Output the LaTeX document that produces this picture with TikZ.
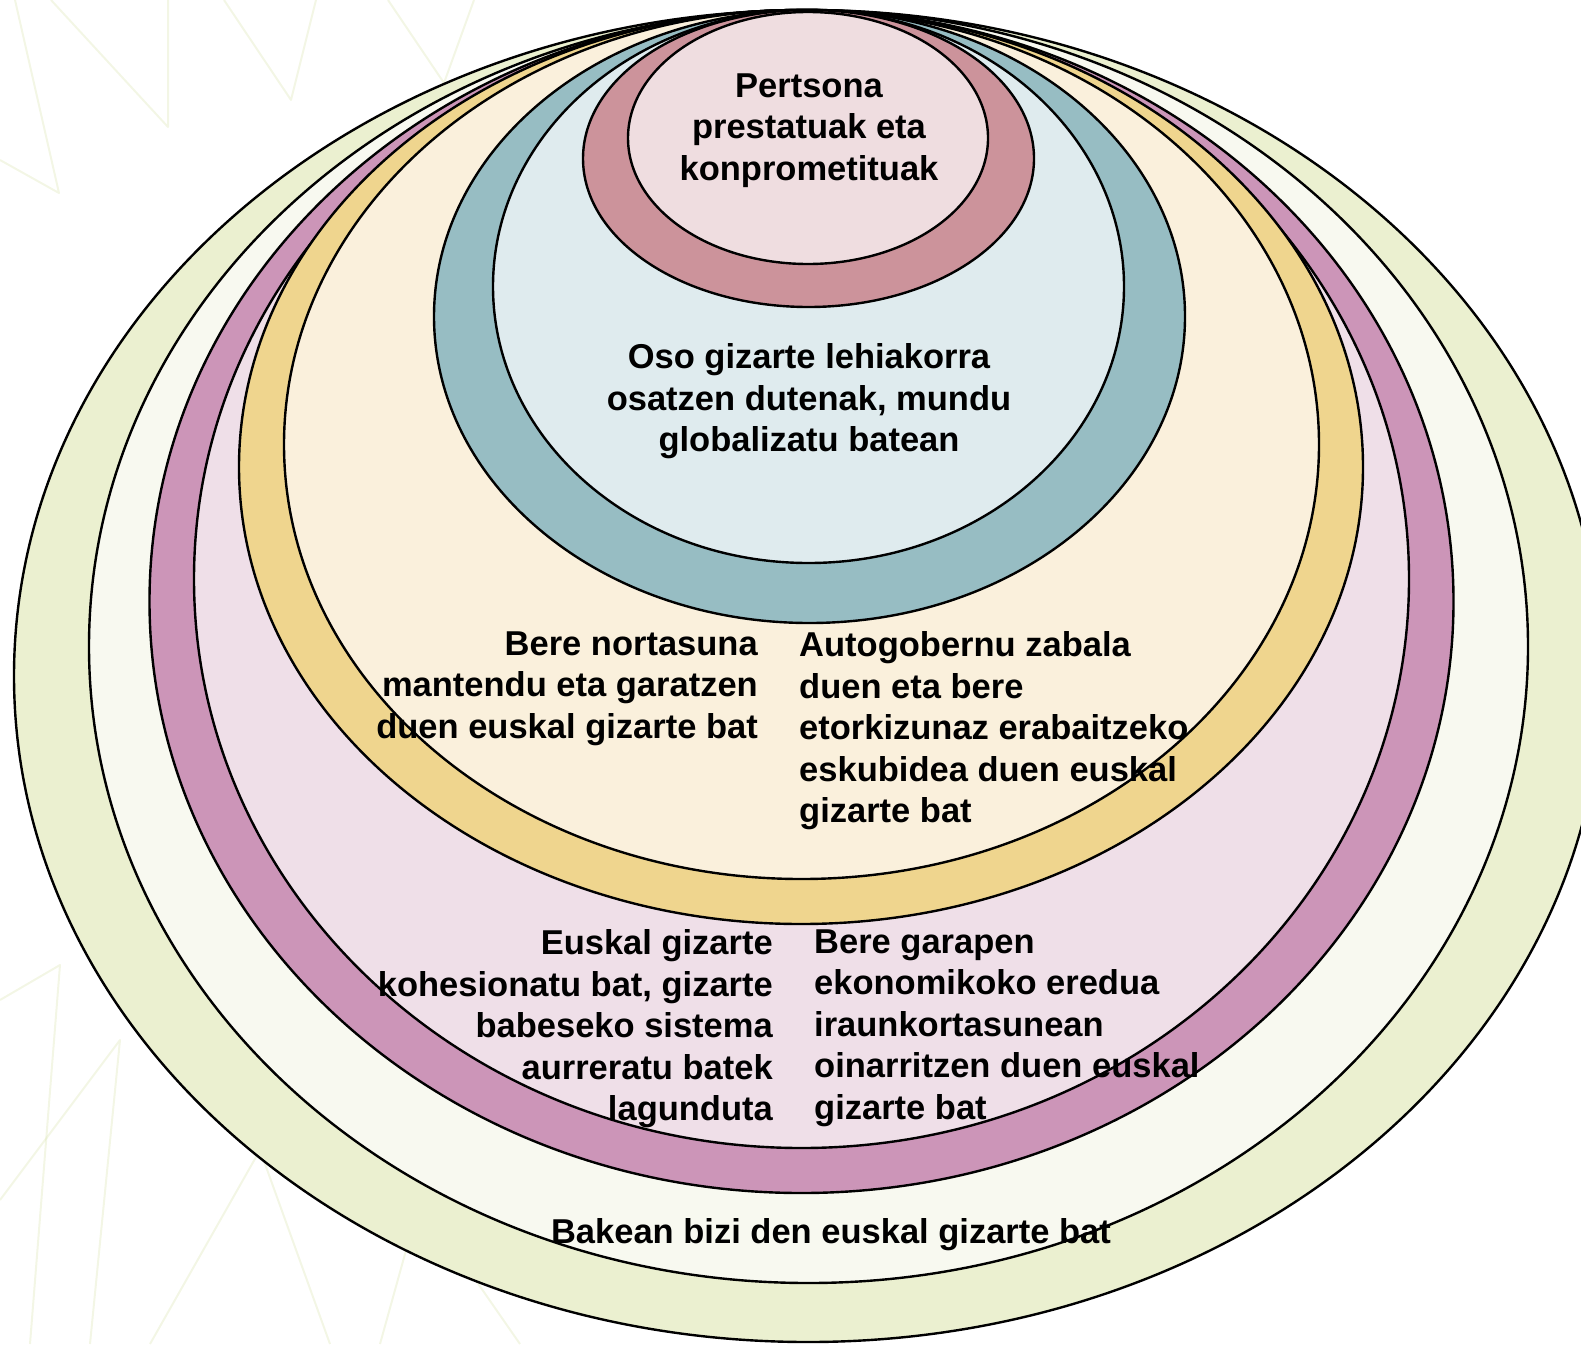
\documentclass[tikz,border=0pt]{standalone}
\usepackage{fontspec}
\setmainfont{Liberation Sans}
\usepackage{tikz}
\usetikzlibrary{positioning}

\definecolor{greenring}{RGB}{235,240,208}
\definecolor{whitering}{RGB}{248,249,240}
\definecolor{purplering}{RGB}{204,149,184}
\definecolor{pinkfill}{RGB}{239,223,232}
\definecolor{yellowring}{RGB}{239,213,142}
\definecolor{yellowfill}{RGB}{250,240,220}
\definecolor{tealring}{RGB}{151,189,195}
\definecolor{tealfill}{RGB}{223,235,238}
\definecolor{rosering}{RGB}{204,147,155}
\definecolor{rosefill}{RGB}{239,221,224}
\definecolor{leafgreen}{RGB}{214,226,170}

\tikzstyle{ring} = [draw=black, line width=2.4pt]
\tikzstyle{leaf} = [draw=leafgreen, line width=2pt, opacity=0.3, line join=round]
\tikzstyle{lbl} = [draw=none, inner sep=0, font=\fontsize{34.5}{41.5}\selectfont\bfseries]

\begin{document}
\begin{tikzpicture}[x=1pt, y=-1pt]
\useasboundingbox (0,0) rectangle (1581,1344);
\clip (0,0) rectangle (1581,1344);
%\fill[white] (0,0) rectangle (1581,1344);
\draw [leaf] (15,0) -- (59,193) -- (0,160);
\draw [leaf] (51,0) -- (168,127) -- (168,0);
\draw [leaf] (224,0) -- (291,100) -- (316,0);
\draw [leaf] (388,0) -- (444,83) -- (474,0);
\draw [leaf] (0,1000) -- (60,965) -- (30,1344);
\draw [leaf] (0,1200) -- (120,1040) -- (90,1344);
\draw [leaf] (150,1344) -- (260,1150) -- (330,1344);
\draw [leaf] (380,1344) -- (420,1200) -- (520,1344);

\draw [ring, fill=greenring] (808,676) ellipse [x radius=794, y radius=666];
\draw [ring, fill=whitering] (808.5,646.5) ellipse [x radius=719.5, y radius=636.5];
\draw [ring, fill=purplering] (801.5,601.5) ellipse [x radius=652, y radius=591.5];
\draw [ring, fill=pinkfill] (801.5,579) ellipse [x radius=607.5, y radius=569];
\draw [ring, fill=yellowring] (801,467) ellipse [x radius=562, y radius=457];
\draw [ring, fill=yellowfill] (801.5,444.5) ellipse [x radius=517.5, y radius=434.5];
\draw [ring, fill=tealring] (809.5,316.5) ellipse [x radius=375.5, y radius=306.5];
\draw [ring, fill=tealfill] (808.5,286.5) ellipse [x radius=315.5, y radius=276.5];
\draw [ring, fill=rosering] (808.5,158.5) ellipse [x radius=225.5, y radius=148.5];
\draw [ring, fill=rosefill] (808,138) ellipse [x radius=180, y radius=126];

\node [lbl, anchor=north, align=center] (pertsona) at (809,73.5) {Pertsona\\prestatuak eta\\konprometituak};
\node [lbl, anchor=north, align=center] (oso) at (809,343.5) {Oso gizarte lehiakorra\\osatzen dutenak, mundu\\globalizatu batean};
\node [lbl, anchor=north east, align=right] (nortasuna) at (758,631.5) {Bere nortasuna\\mantendu eta garatzen\\duen euskal gizarte bat};
\node [lbl, anchor=north west, align=left] (autogob) at (799,631.5) {Autogobernu zabala\\duen eta bere\\etorkizunaz erabaitzeko\\eskubidea duen euskal\\gizarte bat};
\node [lbl, anchor=north east, align=right] (kohesio) at (773,929.5) {Euskal gizarte\\kohesionatu bat, gizarte\\babeseko sistema\\aurreratu batek\\lagunduta};
\node [lbl, anchor=north west, align=left] (garapen) at (814,929.5) {Bere garapen\\ekonomikoko eredua\\iraunkortasunean\\oinarritzen duen euskal\\gizarte bat};
\node [lbl, anchor=north] (bakean) at (831,1218.5) {Bakean bizi den euskal gizarte bat};
\end{tikzpicture}
\end{document}
